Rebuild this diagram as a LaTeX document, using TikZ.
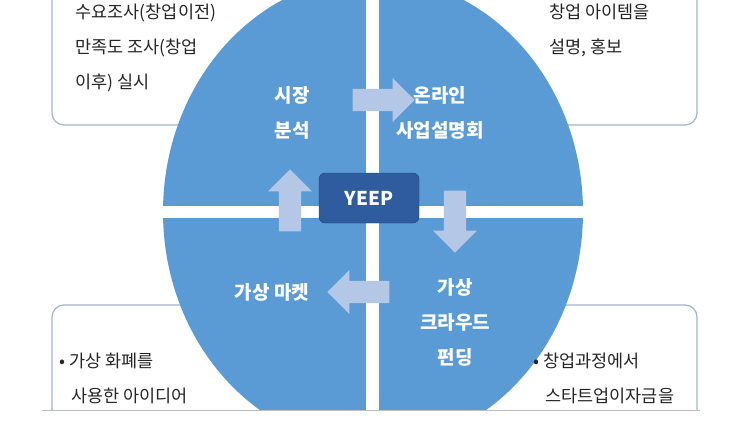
\documentclass[tikz,border=0pt]{standalone}
\usepackage{fontspec}
\setmainfont{Noto Sans CJK KR}
\usetikzlibrary{shapes.arrows, positioning}
\definecolor{disc}{HTML}{5B9BD5}
\definecolor{frame}{HTML}{9FB4CC}
\definecolor{flow}{HTML}{B4C7E7}
\definecolor{hub}{HTML}{2F5C9E}
\tikzstyle{note} = [rounded corners=12pt, draw=frame, line width=1.2pt, fill=white]
\tikzstyle{stage} = [text=white, font=\fontsize{19}{35}\selectfont\bfseries, align=center]
\tikzstyle{side} = [font=\fontsize{17.5}{35}\selectfont, align=left, text=black!85, anchor=north west]
\tikzstyle{step arrow} = [single arrow, fill=flow, minimum height=62pt, minimum width=44pt, single arrow head extend=5pt, inner sep=5pt]

\begin{document}
\begin{tikzpicture}[x=1pt, y=-1pt]
	\useasboundingbox (0,0) rectangle (743,425);
	\fill[white] (0,0) rectangle (743,425);
	% frame and notes
	\draw[frame!60, line width=0.8pt] (52,20) -- (697,20);
	\draw[note] (52,-20) rectangle (697,125);
	\draw[note] (52,305) rectangle (697,460);
	% disc, split in four
	\fill[disc] (373,212) ellipse [x radius=210, y radius=235];
	\fill[white] (366,0) rectangle (379,425);
	\fill[white] (160,206) rectangle (590,218);
	% notes text
	\node (NoteTL) [side] at (72,0) {수요조사(창업이전)\\만족도 조사(창업\\이후) 실시};
	\node (NoteTR) [side] at (546,0) {창업 아이템을\\설명, 홍보};
	\node (NoteBL) [side] at (56,349) {•\ 가상 화폐를\\\ \ \ 사용한 아이디어};
	\node (NoteBR) [side] at (530,349) {•\ 창업과정에서\\\ \ \ 스타트업이자금을};
	% stages
	\node (Market) [stage] at (292,113) {시장\\분석};
	\node (Online) [stage] at (440,113) {온라인\\사업설명회};
	\node (VMarket) [stage] at (272,292) {가상 마켓};
	\node (Funding) [stage] at (455,322) {가상\\크라우드\\펀딩};
	\node (Hub) [rounded corners=6pt, fill=hub, draw=hub!70!black, text=white, font=\fontsize{19}{22}\selectfont\bfseries, minimum width=100pt, minimum height=50pt] at (369,198) {YEEP};
	% flow arrows
	\node (ToOnline) [step arrow] at (378,100) {};
	\node (ToFunding) [step arrow, rotate=-90] at (455,216) {};
	\node (ToMarket) [step arrow, rotate=180] at (364,292) {};
	\node (ToAnalysis) [step arrow, rotate=90] at (290,206) {};
	% bottom strip
	\fill[white] (-5,410) rectangle (750,440);
	\draw[black!25, line width=0.8pt] (42,410) -- (700,410);
\end{tikzpicture}
\end{document}
